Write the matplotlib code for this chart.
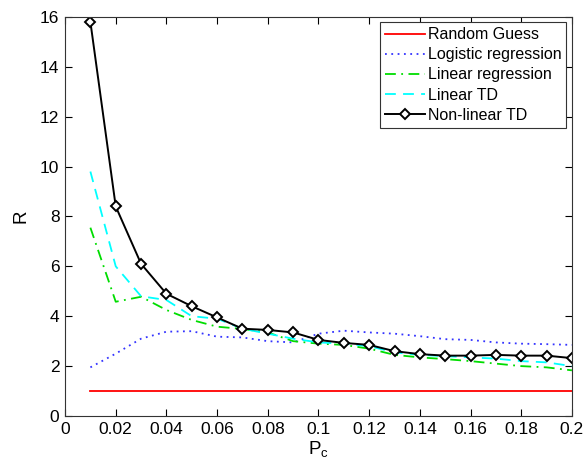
import numpy as np
import matplotlib
matplotlib.use("Agg")
import matplotlib.pyplot as plt

plt.rcParams['font.family'] = ['Liberation Sans', 'DejaVu Sans']

# x values (P_c)
pc = [0.01, 0.02, 0.03, 0.04, 0.05, 0.06, 0.07, 0.08, 0.09, 0.10,
      0.11, 0.12, 0.13, 0.14, 0.15, 0.16, 0.17, 0.18, 0.19, 0.20]

# series values
random_guess = [1.0] * 20
logistic_reg = [1.95, 2.5, 3.1, 3.38, 3.4, 3.18, 3.15, 3.0, 2.95, 3.3,
                3.42, 3.35, 3.3, 3.2, 3.08, 3.05, 2.95, 2.9, 2.88, 2.85]
linear_reg = [7.55, 4.58, 4.78, 4.25, 3.85, 3.58, 3.49, 3.35, 3.0, 2.9,
              2.85, 2.7, 2.45, 2.35, 2.28, 2.2, 2.1, 2.0, 1.95, 1.83]
linear_td = [9.8, 6.0, 4.8, 4.65, 4.0, 3.9, 3.5, 3.3, 3.1, 2.95,
             2.9, 2.8, 2.55, 2.45, 2.4, 2.35, 2.3, 2.2, 2.15, 2.0]
nonlinear_td = [15.8, 8.4, 6.1, 4.9, 4.4, 3.95, 3.5, 3.45, 3.35, 3.05,
                2.93, 2.85, 2.6, 2.48, 2.42, 2.42, 2.45, 2.42, 2.42, 2.32]

xticks = [0, 0.02, 0.04, 0.06, 0.08, 0.1, 0.12, 0.14, 0.16, 0.18, 0.2]
xtick_labels = ['0', '0.02', '0.04', '0.06', '0.08', '0.1', '0.12', '0.14', '0.16', '0.18', '0.2']
yticks = [0, 2, 4, 6, 8, 10, 12, 14, 16]

fig = plt.figure(figsize=(5.86, 4.69), dpi=100)
ax = fig.add_axes([0.111, 0.113, 0.865, 0.851])

ax.plot(pc, random_guess, color='red', lw=1.3, label='Random Guess')
ax.plot(pc, logistic_reg, color='#3333ff', ls=(0, (1, 2.5)), lw=1.3, label='Logistic regression')
ax.plot(pc, linear_reg, color='#00dd00', ls=(0, (6, 3, 1, 3)), lw=1.3, label='Linear regression')
ax.plot(pc, linear_td, color='cyan', ls=(0, (6, 4)), lw=1.3, label='Linear TD')
ax.plot(pc, nonlinear_td, color='black', lw=1.4, marker='D', ms=5.5, mfc='white',
        mec='black', mew=1.4, label='Non-linear TD')

ax.set_xlim(0, 0.2)
ax.set_ylim(0, 16)
ax.set_xticks(xticks)
ax.set_xticklabels(xtick_labels)
ax.set_yticks(yticks)
ax.tick_params(direction='in', top=True, right=True, labelsize=12.5, length=5, pad=4)
for s in ax.spines.values():
    s.set_color('#333333')
ax.set_xlabel(r'$\mathregular{P_c}$', fontsize=13.5, labelpad=2)
ax.set_ylabel('R', fontsize=13.5, labelpad=8)

leg = ax.legend(loc='upper right', fontsize=11.5, handlelength=2.5, handletextpad=0.2,
                labelspacing=0.32, borderpad=0.3, fancybox=False, edgecolor='#333333',
                framealpha=1, borderaxespad=0.35)
leg.get_frame().set_linewidth(0.8)

fig.savefig('out.png', dpi=100)
